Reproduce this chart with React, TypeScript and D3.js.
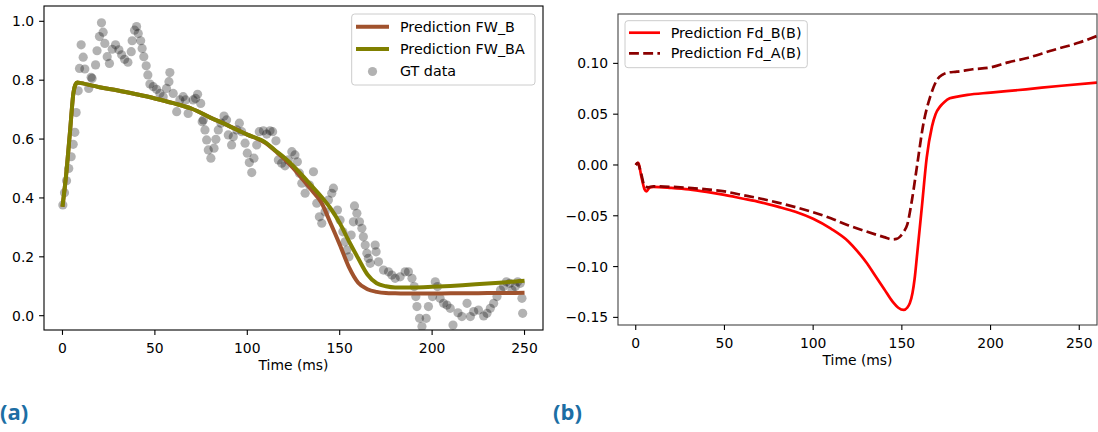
import React from 'react';
import * as d3 from 'd3';

// ---------- data ----------
const gtTime = [0.2,1.1,2.2,3.4,4.7,5.8,6.7,7.4,8.5,9.2,10.1,11.2,12.1,14.2,15.5,16,17.9,18.7,20,21.1,22,22.9,24.2,25.4,26.9,28.7,30.5,32,33.6,35.4,37.2,37.7,39,40.1,41,42.3,43.1,44,45.3,46.2,47.3,49.1,50.9,52.7,54.5,56.3,57.6,58.1,59.9,61.8,63.5,65.3,66.6,68,70.7,72,73.1,74.8,75.6,76.2,77.1,78,78.9,80.3,82,83,84.3,85.8,87.4,88.8,89.7,91.5,92.4,94.3,95.7,97,98.8,100,101.1,102.4,103.6,105.1,106.5,108.7,110.5,112.3,113.7,115.5,116.8,118.6,120.4,122.2,124.1,125.8,127.1,128.2,129.5,131.3,133.6,135.8,137.6,139,140.3,142.1,143.9,145.7,146.6,148.8,150.2,151.7,152.9,153.9,155,156.2,157.4,158,159.3,160.7,162,162.8,163.8,164.7,165.5,166.5,169.2,169.7,171,173.7,176.4,178.2,180,182.7,185.4,187.2,189.1,190.3,191.2,191.8,193.2,194.5,196.8,198,200.2,201.7,202.9,204.3,206.2,208,209.8,211.3,214,216.1,218.9,220.7,222.5,225.1,227.9,229.7,231.5,233.3,235.1,237,238.7,240.2,242,243.2,245,246.3,247.7,248.6,249];
const gtValue = [0.376,0.418,0.458,0.5,0.54,0.582,0.623,0.69,0.764,0.84,0.92,0.878,0.838,0.772,0.81,0.806,0.852,0.9,0.948,0.995,0.963,0.925,0.88,0.857,0.905,0.92,0.903,0.886,0.871,0.861,0.897,0.934,0.97,0.982,0.959,0.934,0.908,0.88,0.849,0.818,0.787,0.778,0.769,0.755,0.744,0.772,0.795,0.826,0.755,0.693,0.733,0.744,0.733,0.687,0.733,0.738,0.752,0.721,0.659,0.665,0.631,0.597,0.563,0.535,0.569,0.599,0.631,0.654,0.678,0.665,0.614,0.58,0.608,0.631,0.654,0.625,0.586,0.552,0.52,0.486,0.535,0.58,0.625,0.628,0.617,0.628,0.625,0.594,0.529,0.518,0.509,0.529,0.557,0.546,0.523,0.484,0.45,0.416,0.444,0.489,0.382,0.336,0.314,0.353,0.393,0.416,0.433,0.359,0.325,0.285,0.251,0.223,0.2,0.274,0.319,0.373,0.348,0.319,0.297,0.268,0.24,0.212,0.195,0.178,0.24,0.217,0.183,0.155,0.149,0.138,0.127,0.132,0.149,0.149,0.127,0.099,0.065,0.031,-0.009,-0.037,-0.009,0.031,0.065,0.115,0.099,0.059,0.042,0.036,0.025,-0.032,0.01,-0.003,0.042,-0.003,0.014,0.019,-0.001,0.008,0.025,0.042,0.065,0.087,0.099,0.115,0.11,0.087,0.099,0.115,0.11,0.059,0.008];

const fwTime = [0,2,4,6,7,8,10,20,30,40,50,60,70,80,90,100,110,115,120,125,130,135,140,145,150,155,160,165,170,175,180,190,200,210,220,230,240,250];
const fwB = [0.37,0.48,0.62,0.76,0.785,0.792,0.79,0.776,0.765,0.752,0.738,0.722,0.703,0.673,0.645,0.615,0.586,0.56,0.533,0.5,0.463,0.425,0.385,0.315,0.242,0.165,0.112,0.09,0.081,0.077,0.076,0.075,0.075,0.076,0.076,0.077,0.077,0.078];
const fwBA = [0.37,0.48,0.62,0.76,0.785,0.792,0.79,0.776,0.765,0.752,0.738,0.722,0.703,0.673,0.645,0.615,0.588,0.562,0.537,0.508,0.475,0.44,0.405,0.365,0.315,0.253,0.195,0.14,0.11,0.1,0.096,0.096,0.098,0.101,0.105,0.109,0.114,0.119];

const fdTimeB = [0,1.5,3,5,6,7,8,10,20,30,40,50,60,70,80,90,100,110,120,125,130,135,140,145,148,151,153,154.5,156,157.2,158.5,161.3,164,167,169,171.5,174,177,182,187,200,220,240,260];
const fdB = [0,0.002,-0.01,-0.024,-0.026,-0.024,-0.022,-0.0215,-0.0225,-0.024,-0.0265,-0.0295,-0.033,-0.0365,-0.041,-0.046,-0.053,-0.0627,-0.0755,-0.085,-0.096,-0.109,-0.122,-0.135,-0.1405,-0.1427,-0.1405,-0.136,-0.126,-0.112,-0.09,-0.041,0.007,0.038,0.05,0.0574,0.062,0.0656,0.0675,0.069,0.0712,0.0745,0.078,0.081];
const fdTimeA = [0,1,3,5,7,10,20,30,40,50,60,70,80,90,100,110,120,130,140,144.5,147,149,151,153,155.7,158.5,162.2,166,169.8,173,176,181,190,200,210,220,235,250,260];
const fdA = [0,0.002,-0.008,-0.021,-0.022,-0.021,-0.0215,-0.0225,-0.024,-0.026,-0.0295,-0.033,-0.037,-0.0415,-0.0465,-0.0525,-0.0595,-0.0655,-0.071,-0.0732,-0.0728,-0.0705,-0.066,-0.059,-0.0344,-0.0016,0.041,0.0672,0.0837,0.089,0.091,0.0918,0.0942,0.096,0.101,0.105,0.113,0.1205,0.127];

const timeTicks = [0, 50, 100, 150, 200, 250];
const leftYTicks = [0, 0.2, 0.4, 0.6, 0.8, 1.0];
const rightYTicks = [-0.15, -0.1, -0.05, 0, 0.05, 0.1];

const FONT = '"DejaVu Sans", sans-serif';
const FS = 13.9;
const LFS = 14.3;

type Pt = [number, number];

function Frame({ x, y, xTicks, yTicks, yFmt, stroke }: any) {
  const [x0, x1] = x.range();
  const [y0, y1] = y.range();
  return (
    <g>
      <rect x={x0} y={y1} width={x1 - x0} height={y0 - y1} fill="none" stroke={stroke} strokeWidth={1.1} />
      {xTicks.map((t: number) => (
        <g key={'x' + t}>
          <line x1={x(t)} x2={x(t)} y1={y0} y2={y0 + 4.9} stroke="#000" strokeWidth={1.1} />
          <text x={x(t)} y={y0 + 23} textAnchor="middle" fontFamily={FONT} fontSize={FS} fill="#000">{t}</text>
        </g>
      ))}
      {yTicks.map((t: number) => (
        <g key={'y' + t}>
          <line x1={x0} x2={x0 - 4.9} y1={y(t)} y2={y(t)} stroke="#000" strokeWidth={1.1} />
          <text x={x0 - 9.8} y={y(t)} dy="0.36em" textAnchor="end" fontFamily={FONT} fontSize={FS} fill="#000">{yFmt(t)}</text>
        </g>
      ))}
      <text x={(x0 + x1) / 2} y={y0 + 40} textAnchor="middle" fontFamily={FONT} fontSize={FS} fill="#000">Time (ms)</text>
    </g>
  );
}

export default function App() {
  // left panel
  const xL = d3.scaleLinear().domain([-10, 260]).range([44, 543]);
  const yL = d3.scaleLinear().domain([-0.0486, 1.052]).range([330, 6]);
  // right panel
  const xR = d3.scaleLinear().domain([-10, 260]).range([618, 1097]);
  const yR = d3.scaleLinear().domain([-0.1575, 0.1486]).range([325, 14]);

  const lineL = d3.line<Pt>().x(d => xL(d[0])).y(d => yL(d[1])).curve(d3.curveMonotoneX);
  const lineR = d3.line<Pt>().x(d => xR(d[0])).y(d => yR(d[1])).curve(d3.curveMonotoneX);

  const zip = (a: number[], b: number[]): Pt[] => a.map((t, i) => [t, b[i]]);

  const fmtL = d3.format('.1f');
  const fmtR = d3.format('.2f');

  return (
    <svg width={1098} height={432} style={{ position: 'absolute', left: 0, top: 0, background: '#fff' }}>
      <defs>
        <clipPath id="clipL"><rect x={44} y={6} width={499} height={324} /></clipPath>
        <clipPath id="clipR"><rect x={618} y={14} width={479} height={311} /></clipPath>
      </defs>
      <rect x={0} y={0} width={1098} height={432} fill="#fff" />

      {/* Left panel */}
      <g clipPath="url(#clipL)">
        {gtTime.map((t, i) => (
          <circle key={i} cx={xL(t)} cy={yL(gtValue[i])} r={4.6} fill="#000" fillOpacity={0.3} />
        ))}
        <path d={lineL(zip(fwTime, fwB)) || ''} fill="none" stroke="#a0522d" strokeWidth={4} />
        <path d={lineL(zip(fwTime, fwBA)) || ''} fill="none" stroke="#808000" strokeWidth={4} />
      </g>
      <Frame x={xL} y={yL} xTicks={timeTicks} yTicks={leftYTicks} yFmt={fmtL} stroke="#000" />

      {/* Left legend */}
      <g>
        <rect x={351.7} y={14} width={183.3} height={71} rx={3} fill="#fff" fillOpacity={0.8} stroke="#cccccc" strokeWidth={1} />
        <line x1={356} x2={389} y1={26.7} y2={26.7} stroke="#a0522d" strokeWidth={4} />
        <text x={400} y={26.7} dy="0.36em" fontFamily={FONT} fontSize={LFS}>Prediction FW_B</text>
        <line x1={356} x2={389} y1={49} y2={49} stroke="#808000" strokeWidth={4} />
        <text x={400} y={49} dy="0.36em" fontFamily={FONT} fontSize={LFS}>Prediction FW_BA</text>
        <circle cx={372.5} cy={71.5} r={4.6} fill="#000" fillOpacity={0.3} />
        <text x={400} y={71} dy="0.36em" fontFamily={FONT} fontSize={LFS}>GT data</text>
      </g>

      {/* Right panel */}
      <g clipPath="url(#clipR)">
        <path d={lineR(zip(fdTimeB, fdB)) || ''} fill="none" stroke="#ff0000" strokeWidth={2.7} />
        <path d={lineR(zip(fdTimeA, fdA)) || ''} fill="none" stroke="#8b0000" strokeWidth={2.7} strokeDasharray="9.9,4.3" />
      </g>
      <Frame x={xR} y={yR} xTicks={timeTicks} yTicks={rightYTicks} yFmt={fmtR} stroke="#444" />

      {/* Right legend */}
      <g>
        <rect x={625} y={20.7} width={182.3} height={47} rx={3} fill="#fff" fillOpacity={0.8} stroke="#cccccc" strokeWidth={1} />
        <line x1={629} x2={660} y1={32.7} y2={32.7} stroke="#ff0000" strokeWidth={2.7} />
        <text x={670.7} y={32.7} dy="0.36em" fontFamily={FONT} fontSize={LFS}>Prediction Fd_B(B)</text>
        <line x1={629} x2={660} y1={53.3} y2={53.3} stroke="#8b0000" strokeWidth={2.7} strokeDasharray="9.9,4.3" />
        <text x={670.7} y={53.3} dy="0.36em" fontFamily={FONT} fontSize={LFS}>Prediction Fd_A(B)</text>
      </g>

      {/* Panel labels */}
      <text x={0} y={420} fontFamily='"Open Sans", sans-serif' fontWeight={700} fontSize={22} fill="#1c6ea4">(a)</text>
      <text x={553} y={420} fontFamily='"Open Sans", sans-serif' fontWeight={700} fontSize={22} fill="#1c6ea4">(b)</text>
    </svg>
  );
}
